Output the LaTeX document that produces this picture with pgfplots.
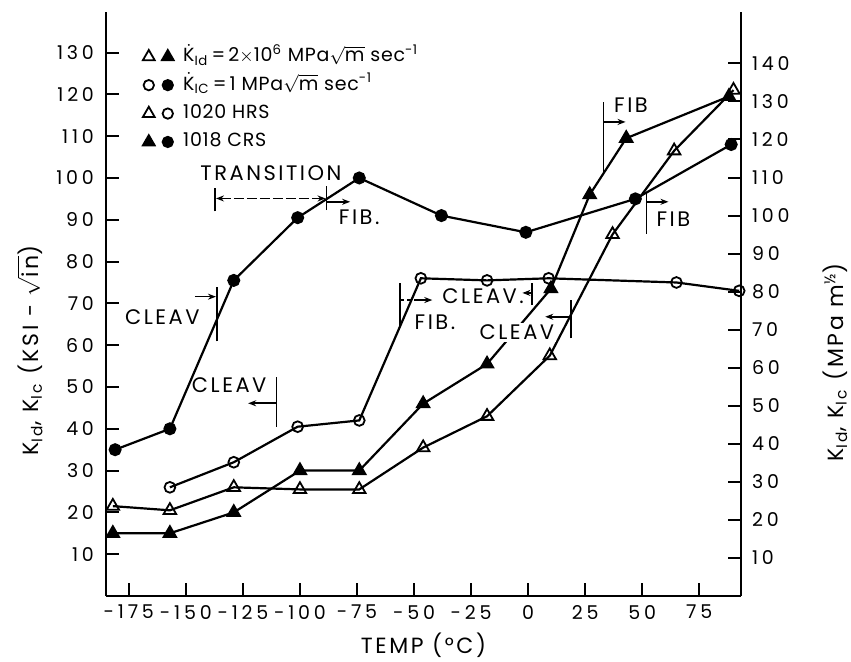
\documentclass[border=0pt]{standalone}
\usepackage{fontspec}
\setmainfont{Poppins}
\newfontfamily\tickfam[LetterSpace=20]{Poppins}
\newfontfamily\notefam[LetterSpace=12]{Poppins}
\newfontfamily\legfam[LetterSpace=4]{Poppins}
\usepackage{pgfplots}
\usepackage{pgfplotstable}
\pgfplotsset{compat=1.18}
\usetikzlibrary{arrows.meta}

\newcommand\tickfont{\tickfam\fontsize{9.5}{11}\selectfont}
\newcommand\notefont{\notefam\fontsize{10.5}{12}\selectfont}
\newcommand\labelfont{\notefam\fontsize{11}{13}\selectfont}
\newcommand\legfont{\legfam\fontsize{9.5}{11}\selectfont}

% 1020 HRS, slow loading (K_Ic)
\pgfplotstableread{
T K
-157 26
-129 32
-101 40.5
-74 42
-47 76
-18 75.5
9 76
65 75
92.5 73
}\hrsIc
% 1018 CRS, slow loading (K_Ic)
\pgfplotstableread{
T K
-181 35
-157 40
-129 75.5
-101 90.5
-74 100
-38 91
-1 87
47 95
89 108
}\crsIc
% 1020 HRS, dynamic loading (K_Id)
\pgfplotstableread{
T K
-182 21.5
-157 20.5
-129 26
-100 25.5
-74 25.5
-46 35.5
-18 43
9.5 57.5
37 86.5
64 106.5
90 121
}\hrsId
% 1018 CRS, dynamic loading (K_Id)
\pgfplotstableread{
T K
-182 15
-157 15
-129 20
-100 30
-74 30
-46 46
-18 55.5
10 73.5
27 96
43 109.5
88 119.5
}\crsId

\tikzset{
  bar/.style={line width=0.8pt},
  note arrow/.style={line width=0.8pt,-{Stealth[length=4pt,width=3pt]}},
}

\begin{document}
\begin{tikzpicture}
\begin{axis}[
  name=main,
  at={(0,0)}, anchor=south west,
  scale only axis, width=317.5pt, height=292pt,
  xmin=-185, xmax=93.3, ymin=0, ymax=139.7,
  axis x line*=bottom, axis y line*=left,
  axis line style={line width=1.3pt},
  xtick={-175,-150,...,75},
  xticklabels={{-175},{-150},{-125},{-100},{-75},{-50},{-25},{0},{25},{50},{75}},
  ytick={10,20,...,130},
  tick align=inside, major tick length=6.5pt,
  tick style={line width=1pt, black},
  every tick label/.append style={font=\tickfont},
  /pgf/number format/assume math mode=true,
  yticklabel style={xshift=-2.5pt},
  xticklabel style={yshift=-1pt},
  clip=false,
  legend style={at={(axis cs:-169,132.2)}, anchor=north west, draw=none, fill=none,
    font=\legfont, inner sep=0pt, row sep=1.2pt,
    nodes={inner xsep=2pt, inner ysep=1pt, text height=8pt, text depth=3pt}},
  legend cell align=left,
]
\addplot[forget plot, black, line width=1.1pt, mark=*, mark size=2.7pt] table {\crsIc};
\addplot[forget plot, black, line width=1.1pt, mark=o, mark size=2.7pt, mark options={fill=white, line width=0.9pt}] table {\hrsIc};
\addplot[forget plot, black, line width=1.1pt, mark=triangle, mark size=3.6pt, mark options={fill=white, line width=0.9pt}] table {\hrsId};
\addplot[forget plot, black, line width=1.1pt, mark=triangle*, mark size=3.6pt, mark options={line width=0.9pt}] table {\crsId};

\addlegendimage{legend image code/.code={
  \draw[black, line width=0.9pt] plot[mark=triangle, mark size=3.4pt, mark options={fill=white}] coordinates {(0pt,0pt)};
  \draw[black, line width=0.9pt] plot[mark=triangle*, mark size=3.4pt] coordinates {(9.5pt,0pt)};
  \path (15pt,0pt);}}
\addlegendentry{$\dot{\hbox{K}}$\textsubscript{Id}\,=\,2$\times$10\textsuperscript{6} MPa$\sqrt{\hbox{m}}$ sec\textsuperscript{-1}}
\addlegendimage{legend image code/.code={
  \draw[black, line width=0.9pt] plot[mark=o, mark size=2.6pt, mark options={fill=white}] coordinates {(0pt,0pt)};
  \draw[black, line width=0.9pt] plot[mark=*, mark size=2.6pt] coordinates {(9.5pt,0pt)};
  \path (15pt,0pt);}}
\addlegendentry{$\dot{\hbox{K}}$\textsubscript{IC}\,=\,1 MPa$\sqrt{\hbox{m}}$ sec\textsuperscript{-1}}
\addlegendimage{legend image code/.code={
  \draw[black, line width=0.9pt] plot[mark=triangle, mark size=3.4pt, mark options={fill=white}] coordinates {(0pt,0pt)};
  \draw[black, line width=0.9pt] plot[mark=o, mark size=2.6pt, mark options={fill=white}] coordinates {(9.5pt,0pt)};
  \path (15pt,0pt);}}
\addlegendentry{1020 HRS}
\addlegendimage{legend image code/.code={
  \draw[black, line width=0.9pt] plot[mark=triangle*, mark size=3.4pt] coordinates {(0pt,0pt)};
  \draw[black, line width=0.9pt] plot[mark=*, mark size=2.6pt] coordinates {(9.5pt,0pt)};
  \path (15pt,0pt);}}
\addlegendentry{1018 CRS}

% transition band of the 1018 CRS slow-loading curve
\node[font=\notefont] at (axis cs:-112.7,101.1) {TRANSITION};
\draw[bar] (axis cs:-137.3,92) -- (axis cs:-137.3,97.5);
\draw[bar] (axis cs:-88.3,92.3) -- (axis cs:-88.3,98);
\draw[line width=0.7pt, dash pattern=on 5pt off 1.5pt, {Stealth[length=4pt,width=3pt]}-{Stealth[length=4pt,width=3pt]}]
  (axis cs:-136.8,95.1) -- (axis cs:-88.8,95.1);
\draw[note arrow] (axis cs:-88.3,94.3) -- (axis cs:-78,94.3);
\node[font=\notefont] at (axis cs:-74,90.6) {FIB.};

% cleavage limits
\node[font=\notefont] at (axis cs:-160.3,66.8) {CLEAV};
\draw[bar] (axis cs:-136.3,60.9) -- (axis cs:-136.3,74);
\draw[note arrow] (axis cs:-146,71.6) -- (axis cs:-136.8,71.6);

\node[font=\notefont] at (axis cs:-131,50.4) {CLEAV};
\draw[bar] (axis cs:-110.2,40.5) -- (axis cs:-110.2,52.4);
\draw[note arrow] (axis cs:-110.2,46.1) -- (axis cs:-122.7,46.1);

% 1020 HRS slow-loading transition
\draw[bar] (axis cs:-56.1,64.4) -- (axis cs:-56.1,74.8);
\draw[line width=0.7pt, dash pattern=on 2pt off 1.5pt] (axis cs:-56.1,70.8) -- (axis cs:-50,70.8);
\draw[note arrow] (axis cs:-50,70.8) -- (axis cs:-42,70.8);
\node[font=\notefont] at (axis cs:-40.8,65.4) {FIB.};

\node[font=\notefont, fill=white, inner sep=1pt] at (axis cs:-19.7,71.8) {CLEAV.};
\draw[bar] (axis cs:1.6,69.6) -- (axis cs:1.6,74.8);
\draw[note arrow] (axis cs:1.6,72.5) -- (axis cs:-2.5,72.5);

\node[font=\notefont, fill=white, inner sep=1pt] at (axis cs:-4.9,63) {CLEAV};
\draw[bar] (axis cs:18.7,61.6) -- (axis cs:18.7,70.8);
\draw[note arrow] (axis cs:18.7,66.8) -- (axis cs:7.5,66.8);

% fibrous limits of the dynamic curves
\draw[bar] (axis cs:33,100.7) -- (axis cs:33,118.2);
\draw[note arrow] (axis cs:33,113.4) -- (axis cs:42.7,113.4);
\node[font=\notefont] at (axis cs:45.1,117.3) {FIB};

\draw[bar] (axis cs:51.8,86.7) -- (axis cs:51.8,96.7);
\draw[note arrow] (axis cs:51.8,94.3) -- (axis cs:61.5,94.3);
\node[font=\notefont] at (axis cs:63.7,90.1) {FIB};

\node[rotate=90, font=\labelfont] at ([xshift=-38pt]axis description cs:0,0.42)
  {K\textsubscript{Id}, K\textsubscript{Ic} (KSI - $\sqrt{\hbox{in}}$)};
\node[font=\labelfont] at ([yshift=-24.5pt]axis description cs:0.5,0) {TEMP (°C)};
\end{axis}

\begin{axis}[
  at={(0,0)}, anchor=south west,
  scale only axis, width=317.5pt, height=292pt,
  xmin=-185, xmax=93.3, ymin=0, ymax=153.5,
  axis y line*=right, axis x line=none,
  axis line style={line width=1.3pt},
  ytick={10,20,...,140},
  tick align=inside, major tick length=6.5pt,
  tick style={line width=1pt, black},
  every tick label/.append style={font=\tickfont},
  /pgf/number format/assume math mode=true,
  yticklabel style={xshift=2pt},
  clip=false,
]
\node[rotate=90, font=\labelfont] at ([xshift=47pt]axis description cs:1,0.40)
  {K\textsubscript{Id}, K\textsubscript{Ic} (MPa m\textsuperscript{½})};
\end{axis}
\pgfresetboundingbox
\path[use as bounding box] ([xshift=-53pt,yshift=-32.5pt]main.south west) rectangle ([xshift=55pt,yshift=6pt]main.north east);
\end{tikzpicture}
\end{document}
